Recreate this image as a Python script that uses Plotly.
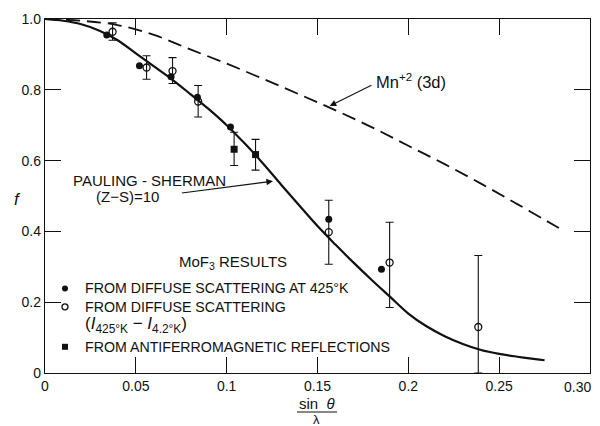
import plotly.graph_objects as go

# Pauling-Sherman (Z-S)=10 curve
ps_x = [0, 0.01, 0.02, 0.03, 0.04, 0.05, 0.06, 0.07, 0.08, 0.09, 0.10, 0.11, 0.12, 0.13,
        0.14, 0.15, 0.16, 0.17, 0.18, 0.19, 0.20, 0.21, 0.22, 0.23, 0.24, 0.25, 0.26, 0.27, 0.275]
ps_y = [1.0, 0.995, 0.985, 0.967, 0.940, 0.903, 0.866, 0.829, 0.788, 0.746, 0.700, 0.648, 0.592, 0.532,
        0.473, 0.415, 0.362, 0.311, 0.262, 0.215, 0.168, 0.132, 0.104, 0.082, 0.065, 0.054, 0.046, 0.039, 0.036]

# Mn+2 (3d) curve
mn_x = [0, 0.02, 0.04, 0.06, 0.08, 0.10, 0.12, 0.14, 0.16, 0.18, 0.20, 0.22, 0.24, 0.26, 0.28, 0.284]
mn_y = [1.0, 0.995, 0.983, 0.955, 0.914, 0.874, 0.831, 0.787, 0.742, 0.694, 0.642, 0.590, 0.535, 0.477, 0.418, 0.406]

# From diffuse scattering at 425 K (filled circles)
fill_x = [0.034, 0.052, 0.0694, 0.0839, 0.1021, 0.1562, 0.1852]
fill_y = [0.955, 0.868, 0.837, 0.779, 0.695, 0.434, 0.293]

# From diffuse scattering (I425K - I4.2K) (open circles)
open_x = [0.0372, 0.0559, 0.0702, 0.0843, 0.1562, 0.1897, 0.2385]
open_y = [0.964, 0.863, 0.853, 0.767, 0.398, 0.312, 0.130]
open_hi = [0.989, 0.896, 0.891, 0.812, 0.488, 0.426, 0.332]
open_lo = [0.940, 0.830, 0.818, 0.723, 0.307, 0.185, 0.0]

# From antiferromagnetic reflections (squares)
sq_x = [0.1041, 0.1159]
sq_y = [0.632, 0.617]
sq_hi = [0.680, 0.660]
sq_lo = [0.586, 0.573]

x_ticks = [0, 0.05, 0.1, 0.15, 0.2, 0.25, 0.30]
x_labels = ["0", "0.05", "0.1", "0.15", "0.2", "0.25", "0.30"]
y_ticks = [0, 0.2, 0.4, 0.6, 0.8, 1.0]
y_labels = ["0", "0.2", "0.4", "0.6", "0.8", "1.0"]

FONT = "Liberation Sans"
BLACK = "#111111"

fig = go.Figure()

fig.add_trace(go.Scatter(x=mn_x, y=mn_y, mode="lines",
                         line=dict(color=BLACK, width=1.8, dash="14px,7px", shape="spline"),
                         showlegend=False, hoverinfo="skip"))
fig.add_trace(go.Scatter(x=ps_x, y=ps_y, mode="lines",
                         line=dict(color=BLACK, width=2.2, shape="spline"),
                         showlegend=False, hoverinfo="skip"))

fig.add_trace(go.Scatter(
    x=open_x, y=open_y, mode="markers",
    marker=dict(symbol="circle-open", size=7, color=BLACK, line=dict(width=1.3, color=BLACK)),
    error_y=dict(type="data", symmetric=False,
                 array=[h - v for h, v in zip(open_hi, open_y)],
                 arrayminus=[v - l for v, l in zip(open_y, open_lo)],
                 color=BLACK, thickness=1.1, width=4),
    showlegend=False, hoverinfo="skip"))

fig.add_trace(go.Scatter(
    x=sq_x, y=sq_y, mode="markers",
    marker=dict(symbol="square", size=7, color=BLACK),
    error_y=dict(type="data", symmetric=False,
                 array=[h - v for h, v in zip(sq_hi, sq_y)],
                 arrayminus=[v - l for v, l in zip(sq_y, sq_lo)],
                 color=BLACK, thickness=1.1, width=4),
    showlegend=False, hoverinfo="skip"))

fig.add_trace(go.Scatter(x=fill_x, y=fill_y, mode="markers",
                         marker=dict(symbol="circle", size=7, color=BLACK),
                         showlegend=False, hoverinfo="skip"))

# Key symbols inside the plot
fig.add_trace(go.Scatter(x=[0.011], y=[0.239], mode="markers",
                         marker=dict(symbol="circle", size=6, color=BLACK),
                         showlegend=False, hoverinfo="skip"))
fig.add_trace(go.Scatter(x=[0.011], y=[0.187], mode="markers",
                         marker=dict(symbol="circle-open", size=6, color=BLACK, line=dict(width=1.3)),
                         showlegend=False, hoverinfo="skip"))
fig.add_trace(go.Scatter(x=[0.011], y=[0.074], mode="markers",
                         marker=dict(symbol="square", size=6, color=BLACK),
                         showlegend=False, hoverinfo="skip"))

tf = dict(family=FONT, size=14.2, color=BLACK)

fig.add_annotation(x=0.1033, y=0.311, text="MoF<sub>3</sub> RESULTS",
                   showarrow=False, font=dict(family=FONT, size=15, color=BLACK),
                   xanchor="center", yanchor="middle")
fig.add_annotation(x=0.0209, y=0.239, text="FROM DIFFUSE SCATTERING AT 425°K",
                   showarrow=False, font=tf, xanchor="left", yanchor="middle")
fig.add_annotation(x=0.0209, y=0.187, text="FROM DIFFUSE SCATTERING",
                   showarrow=False, font=tf, xanchor="left", yanchor="middle")
fig.add_annotation(x=0.0209, y=0.135,
                   text="(<i>I</i><sub>425°K</sub> − <i>I</i><sub>4.2°K</sub>)",
                   showarrow=False, font=dict(family=FONT, size=17, color=BLACK),
                   xanchor="left", yanchor="middle")
fig.add_annotation(x=0.0209, y=0.074, text="FROM ANTIFERROMAGNETIC REFLECTIONS",
                   showarrow=False, font=tf, xanchor="left", yanchor="middle")

# Curve labels with arrows
fig.add_annotation(x=0.1567, y=0.754, ax=0.1805, ay=0.815, axref="x", ayref="y",
                   text="", showarrow=True, arrowhead=2, arrowsize=1.2, arrowwidth=1.1, arrowcolor=BLACK)
fig.add_annotation(x=0.181, y=0.824, text="Mn<sup>+2</sup> (3d)",
                   showarrow=False, font=dict(family=FONT, size=16.5, color=BLACK),
                   xanchor="left", yanchor="middle")
fig.add_annotation(x=0.1255, y=0.542, ax=0.0745, ay=0.508, axref="x", ayref="y",
                   text="", showarrow=True, arrowhead=2, arrowsize=1.2, arrowwidth=1.1, arrowcolor=BLACK)
fig.add_annotation(x=0.0577, y=0.544, text="PAULING - SHERMAN",
                   showarrow=False, font=dict(family=FONT, size=15, color=BLACK),
                   xanchor="center", yanchor="middle")
fig.add_annotation(x=0.0456, y=0.500, text="(Z−S)=10",
                   showarrow=False, font=dict(family=FONT, size=15, color=BLACK),
                   xanchor="center", yanchor="middle")

# Last x tick label, kept inside the page
fig.add_annotation(x=0.30, y=0, yshift=-14, xshift=3, text="0.30", showarrow=False,
                   font=dict(family=FONT, size=14, color=BLACK), xanchor="right", yanchor="middle")

# Axis titles
fig.add_annotation(x=-0.06, y=0.49, xref="paper", yref="paper", text="<i>f</i>",
                   showarrow=False, font=dict(family=FONT, size=17, color=BLACK))
fig.add_annotation(x=0.499, y=0, xref="paper", yref="paper", yshift=-30,
                   text="sin  <i>θ</i>", showarrow=False,
                   font=dict(family=FONT, size=15, color=BLACK), yanchor="middle")
fig.add_annotation(x=0.499, y=0, xref="paper", yref="paper", yshift=-46,
                   text="λ", showarrow=False,
                   font=dict(family=FONT, size=13, color=BLACK), yanchor="middle")

# fraction bar under "sin θ"
fig.add_shape(type="line", xref="paper", yref="paper", x0=0.4624, x1=0.5358,
              ysizemode="pixel", yanchor=0, y0=-39, y1=-39,
              line=dict(color=BLACK, width=1.2))

axis_common = dict(showline=True, linecolor=BLACK, linewidth=1.3, mirror="ticks",
                   ticks="inside", ticklen=16, tickwidth=1.1, tickcolor=BLACK,
                   showgrid=False, zeroline=False,
                   tickfont=dict(family=FONT, size=14, color=BLACK))

fig.update_xaxes(range=[0, 0.30], tickvals=x_ticks,
                 ticktext=x_labels[:-1] + [""], **axis_common)
fig.update_yaxes(range=[0, 1.0], tickvals=y_ticks, ticktext=y_labels, **axis_common)

fig.update_layout(width=600, height=426, margin=dict(l=45, r=10, t=19, b=53),
                  paper_bgcolor="white", plot_bgcolor="white", showlegend=False)

fig.write_html("out.html")
